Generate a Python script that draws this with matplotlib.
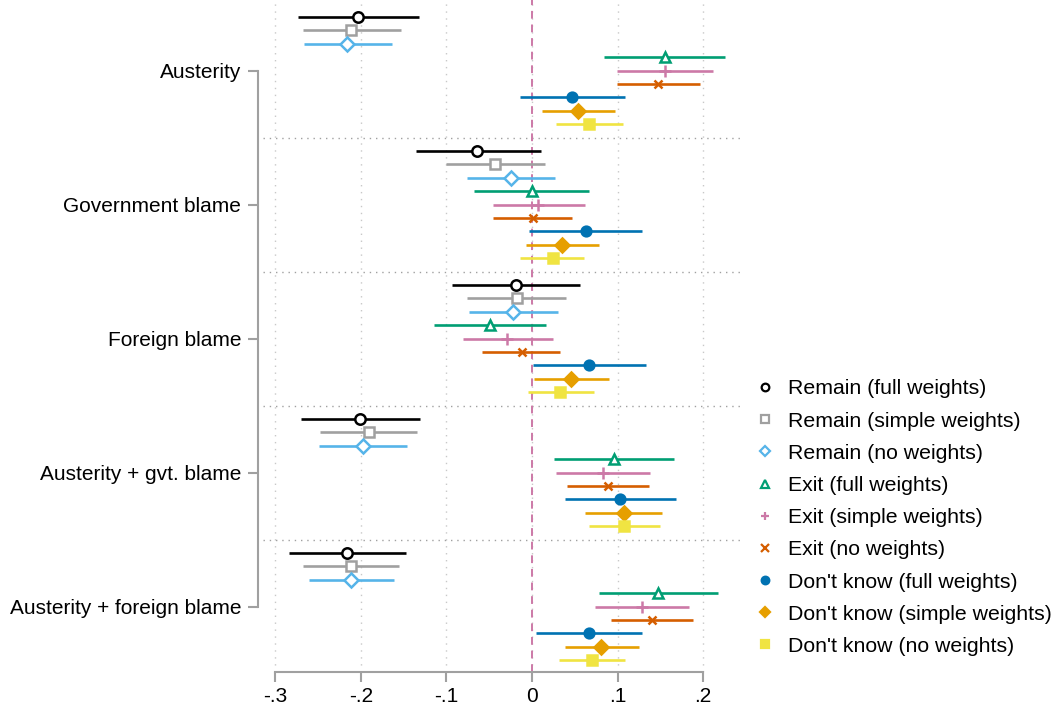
import numpy as np
import matplotlib
matplotlib.use("Agg")
import matplotlib.pyplot as plt

plt.rcParams['font.family'] = ['Liberation Sans', 'DejaVu Sans']

# outcomes (top to bottom)
groups = ["Austerity", "Government blame", "Foreign blame",
          "Austerity + gvt. blame", "Austerity + foreign blame"]

series = ["Remain (full weights)", "Remain (simple weights)", "Remain (no weights)",
          "Exit (full weights)", "Exit (simple weights)", "Exit (no weights)",
          "Don't know (full weights)", "Don't know (simple weights)", "Don't know (no weights)"]

# point estimates: one row per series, one column per outcome
est = [
    [-0.203, -0.064, -0.019, -0.201, -0.216],
    [-0.211, -0.043, -0.018, -0.191, -0.211],
    [-0.216, -0.025, -0.022, -0.198, -0.211],
    [0.155, 0.000, -0.049, 0.096, 0.147],
    [0.155, 0.007, -0.029, 0.083, 0.129],
    [0.147, 0.001, -0.012, 0.089, 0.140],
    [0.047, 0.063, 0.067, 0.103, 0.067],
    [0.054, 0.035, 0.046, 0.107, 0.081],
    [0.067, 0.024, 0.033, 0.108, 0.070],
]
lo = [
    [-0.273, -0.136, -0.094, -0.270, -0.284],
    [-0.267, -0.101, -0.076, -0.248, -0.267],
    [-0.266, -0.076, -0.074, -0.249, -0.261],
    [0.084, -0.068, -0.114, 0.026, 0.078],
    [0.099, -0.046, -0.081, 0.028, 0.074],
    [0.099, -0.045, -0.058, 0.041, 0.092],
    [-0.014, -0.003, 0.001, 0.039, 0.005],
    [0.012, -0.007, 0.002, 0.062, 0.038],
    [0.028, -0.014, -0.005, 0.067, 0.032],
]
hi = [
    [-0.132, 0.010, 0.056, -0.131, -0.147],
    [-0.153, 0.015, 0.040, -0.134, -0.155],
    [-0.164, 0.027, 0.030, -0.146, -0.161],
    [0.225, 0.067, 0.016, 0.166, 0.217],
    [0.211, 0.062, 0.024, 0.138, 0.183],
    [0.196, 0.047, 0.033, 0.137, 0.188],
    [0.109, 0.129, 0.133, 0.168, 0.129],
    [0.097, 0.078, 0.090, 0.152, 0.125],
    [0.106, 0.061, 0.072, 0.149, 0.109],
]

colors = ['#000000', '#A0A0A0', '#56B4E9', '#009E73', '#CC79A7',
          '#D55E00', '#0072B2', '#E69F00', '#F0E442']
markers = ['o', 's', 'D', '^', '+', 'x', 'o', 'D', 's']
hollow = [True, True, True, True, False, False, False, False, False]
msizes = [7.5, 7.5, 7, 7.5, 8.5, 5.5, 7, 7.5, 7.2]

fig = plt.figure(figsize=(10.54, 7.13), dpi=100)
ax = fig.add_axes([258 / 1054, 1 - 672 / 713, (740 - 258) / 1054, 672 / 713])

gap = 10
handles = []
for i, name in enumerate(series):
    pos = np.arange(len(groups)) * gap + i
    ax.hlines(pos, lo[i], hi[i], color=colors[i], lw=1.9, zorder=3)
    face = 'white' if hollow[i] else colors[i]
    h, = ax.plot(est[i], pos, linestyle='none', marker=markers[i], ms=msizes[i],
                 mfc=face, mec=colors[i], mew=1.8,
                 zorder=4, label=name)
    handles.append(h)

ax.axvline(0, color='#CC79A7', ls=(0, (4, 3)), lw=1.4, zorder=2)

# group separators
for g in range(1, len(groups)):
    ax.axhline(g * gap - 1, xmin=0.01, color='#A0A0A0', ls=(0, (1, 3.5)), lw=1, zorder=1)

xt = [-0.3, -0.2, -0.1, 0, 0.1, 0.2]
ax.set_xticks(xt)
ax.set_xticklabels(['-.3', '-.2', '-.1', '0', '.1', '.2'])
ax.set_xlim((258 - 532) / 856, (740 - 532) / 856)
ax.grid(axis='x', color='#C8C8C8', ls=(0, (1, 4)), lw=1)
ax.set_axisbelow(True)

ypos = np.arange(len(groups)) * gap + 4
ax.set_yticks(ypos)
ax.set_yticklabels(groups)
ax.set_ylim((672 - 17) / 13.4, -17 / 13.4)

for s in ['top', 'right']:
    ax.spines[s].set_visible(False)
ax.spines['left'].set_bounds(ypos[0], ypos[-1])
ax.spines['bottom'].set_bounds(-0.3, 0.2)
for s in ['left', 'bottom']:
    ax.spines[s].set_color('#A0A0A0')
    ax.spines[s].set_linewidth(1.5)
ax.tick_params(axis='both', colors='#A0A0A0', width=1.5, length=7, labelcolor='black',
               labelsize=15.0)
ax.tick_params(axis='y', pad=5)

leg = fig.legend(handles=handles, loc='upper left', bbox_to_anchor=(746 / 1054, 1 - 371 / 713),
                 frameon=False, fontsize=15.3, labelspacing=0.62, handlelength=1.0,
                 handletextpad=0.6, borderaxespad=0)
for h in leg.legend_handles:
    h.set_markersize(5.5)
    h.set_markeredgewidth(1.6)

fig.savefig('out.png', dpi=100)
